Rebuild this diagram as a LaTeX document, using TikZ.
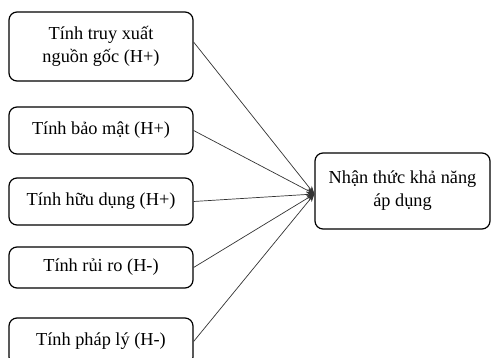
\documentclass[tikz,border=0pt]{standalone}
\usepackage{fontspec}
\setmainfont{Liberation Serif}
\usetikzlibrary{arrows.meta}
\begin{document}
\begin{tikzpicture}[x=1pt,y=-1pt,
  factor/.style={draw=black, line width=1.2pt, rounded corners=8pt, align=center,
    font=\fontsize{18.3}{23}\selectfont, inner sep=0pt},
  link/.style={draw=black!80, line width=0.7pt, -{Stealth[length=8pt,width=6pt]}}]
  \useasboundingbox (0,0) rectangle (491,358);
  \clip (0,0) rectangle (491,358);
  % input factors
  \node[factor, minimum width=184pt, minimum height=69pt] (b1) at (101,46.5) {Tính truy xuất\\nguồn gốc (H+)};
  \node[factor, minimum width=184pt, minimum height=47pt] (b2) at (101,130.5) {Tính bảo mật (H+)};
  \node[factor, minimum width=184pt, minimum height=47pt] (b3) at (101,201.5) {Tính hữu dụng (H+)};
  \node[factor, minimum width=184pt, minimum height=41pt] (b4) at (101,267.5) {Tính rủi ro (H-)};
  \node[factor, minimum width=184pt, minimum height=47pt] (b5) at (101,341.5) {Tính pháp lý (H-)};
  % outcome
  \node[factor, minimum width=175pt, minimum height=76pt] (r) at (402.5,191) {Nhận thức khả năng\\áp dụng};
  \coordinate (t) at ([yshift=-3pt]r.west);
  % connectors
  \draw[link] ([yshift=4.5pt]b1.east) -- (t);
  \draw[link] (b2.east) -- (t);
  \draw[link] (b3.east) -- (t);
  \draw[link] (b4.east) -- (t);
  \draw[link] (b5.east) -- (t);
\end{tikzpicture}
\end{document}
